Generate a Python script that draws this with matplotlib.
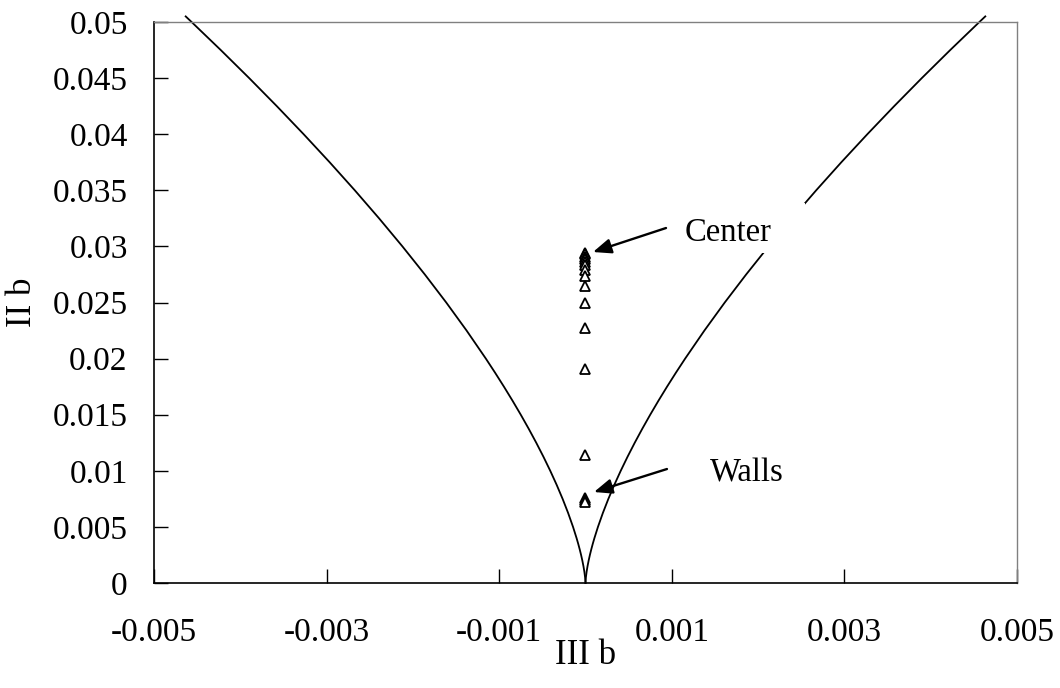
import matplotlib
matplotlib.use("Agg")
import matplotlib.pyplot as plt
from matplotlib.patches import Rectangle

plt.rcParams['font.family'] = ['Liberation Serif', 'DejaVu Serif']

# boundary curve (right branch); left branch is its mirror
curve_ii = [0.0, 0.0001, 0.00025, 0.0005, 0.001, 0.0015, 0.002, 0.0025, 0.003,
            0.0035, 0.004, 0.005, 0.00625, 0.0075, 0.00875, 0.01, 0.01125,
            0.0125, 0.01375, 0.015, 0.01625, 0.0175, 0.01875, 0.02, 0.0225,
            0.025, 0.0275, 0.03, 0.0325, 0.035, 0.0375, 0.04, 0.0425, 0.045,
            0.0475, 0.05, 0.0505]
curve_iii = [0.0, 4.08e-7, 1.614e-6, 4.56e-6, 1.291e-5, 2.372e-5, 3.651e-5,
             5.1031e-5, 6.708e-5, 8.4534e-5, 1.0328e-4, 1.4434e-4, 2.0172e-4,
             2.6517e-4, 3.3415e-4, 4.0825e-4, 4.8714e-4, 5.7054e-4, 6.5823e-4,
             7.5e-4, 8.4568e-4, 9.451e-4, 1.04815e-3, 1.1547e-3, 1.3778e-3,
             1.6137e-3, 1.8618e-3, 2.1213e-3, 2.3919e-3, 2.6732e-3, 2.9646e-3,
             3.2660e-3, 3.5769e-3, 3.8971e-3, 4.2263e-3, 4.5644e-3, 4.633e-3]

# measured points (triangles)
pts_iii = [0.0] * 16
pts_ii = [0.0294, 0.0293, 0.0291, 0.0289, 0.0286, 0.0283, 0.0279, 0.0274,
          0.0265, 0.0250, 0.0227, 0.0191, 0.0114, 0.0076, 0.0074, 0.0072]

x_ticks = [-0.005, -0.003, -0.001, 0.001, 0.003, 0.005]
x_tick_labels = ['-0.005', '-0.003', '-0.001', '0.001', '0.003', '0.005']
y_ticks = [0, 0.005, 0.01, 0.015, 0.02, 0.025, 0.03, 0.035, 0.04, 0.045, 0.05]
y_tick_labels = ['0', '0.005', '0.01', '0.015', '0.02', '0.025', '0.03',
                 '0.035', '0.04', '0.045', '0.05']

fig = plt.figure(figsize=(10.6, 6.88), dpi=100)
ax = fig.add_axes([0.1453, 0.1526, 0.8141, 0.8154])

ax.plot(curve_iii, curve_ii, color='black', lw=1.3, clip_on=False, zorder=2)
ax.plot([-v for v in curve_iii], curve_ii, color='black', lw=1.3, clip_on=False, zorder=2)

ax.plot(pts_iii, pts_ii, linestyle='none', marker='^', markersize=7,
        markerfacecolor='white', markeredgecolor='black', markeredgewidth=1.3, zorder=4)

# white label box that hides part of the curve
ax.add_patch(Rectangle((0.00086, 0.0294), 0.00168, 0.0045, facecolor='white',
                       edgecolor='none', zorder=3))
ax.text(0.00165, 0.0312, 'Center', fontsize=23.5, ha='center', va='center', zorder=5)
ax.text(0.00187, 0.0098, 'Walls', fontsize=23.5, ha='center', va='center', zorder=5)

arrow = dict(arrowstyle='-|>,head_length=1.1,head_width=0.45', color='black', lw=1.7,
             shrinkA=0, shrinkB=0)
ax.annotate('', xy=(0.000087, 0.0295), xytext=(0.000933, 0.03164), arrowprops=arrow, zorder=6)
ax.annotate('', xy=(0.0000985, 0.00811), xytext=(0.000944, 0.01016), arrowprops=arrow, zorder=6)

ax.set_xlim(-0.005, 0.005)
ax.set_ylim(0, 0.05)
ax.set_xticks(x_ticks)
ax.set_xticklabels(x_tick_labels)
ax.set_yticks(y_ticks)
ax.set_yticklabels(y_tick_labels)
ax.tick_params(axis='both', direction='in', length=10, width=1, labelsize=24)
ax.tick_params(axis='x', pad=25)
ax.tick_params(axis='y', pad=19)

for side in ('left', 'bottom'):
    ax.spines[side].set_color('black')
    ax.spines[side].set_linewidth(1.2)
for side in ('top', 'right'):
    ax.spines[side].set_color('#808080')
    ax.spines[side].set_linewidth(1.0)

ax.set_xlabel('III b', fontsize=25, labelpad=-7)
ax.set_ylabel('II b', fontsize=25, labelpad=10)

fig.savefig('out.png', dpi=100)
